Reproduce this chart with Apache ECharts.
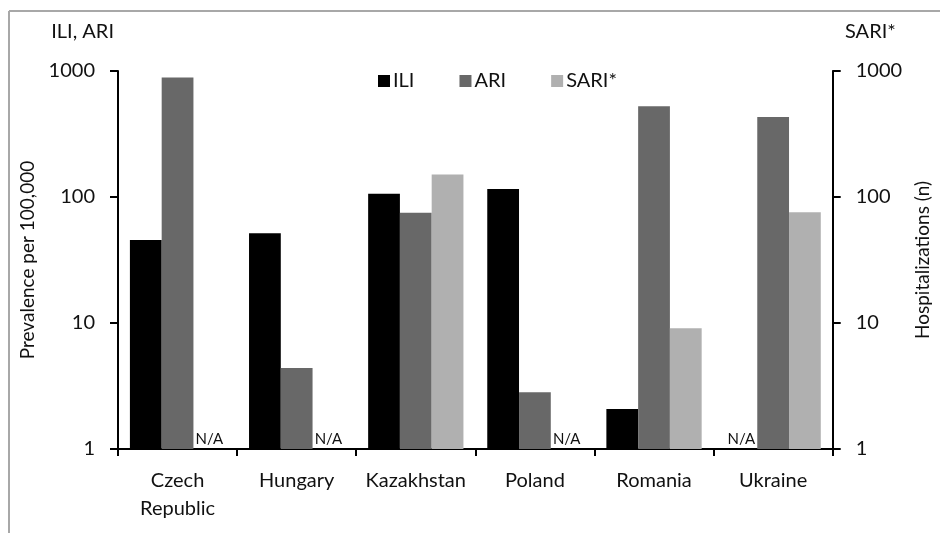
<!DOCTYPE html>
<html><head><meta charset="utf-8">
<script src="https://cdn.jsdelivr.net/npm/echarts@6/dist/echarts.min.js"></script>
<style>html,body{margin:0;padding:0;background:#fff}#c{width:940px;height:533px}</style>
</head><body><div id="c"></div>
<script>
const categories = ['Czech\nRepublic', 'Hungary', 'Kazakhstan', 'Poland', 'Romania', 'Ukraine'];
const iliValues  = [45.6, 51.5, 106, 116, 2.08, null];
const ariValues  = [890, 4.4, 75, 2.82, 525, 431];
const sariValues = [null, null, 151, null, 9.1, 75.6];
const yTicks = [1, 10, 100, 1000];
const naText = 'N/A';

const FONT = 'Lato';
function toData(arr) {
  return arr.map(v => v === null
    ? { value: 1, label: { show: true, formatter: naText } }
    : v);
}
const chart = echarts.init(document.getElementById('c'));
const yBase = {
  type: 'log', logBase: 10, min: yTicks[0], max: yTicks[yTicks.length - 1],
  splitLine: { show: false },
  axisLine: { show: true, lineStyle: { color: '#000', width: 2 } },
  axisTick: { show: true, length: 8, lineStyle: { color: '#000', width: 2 } },
  axisLabel: { color: '#111', fontSize: 20, fontFamily: FONT, margin: 23, formatter: v => String(Math.round(v)) },
  nameLocation: 'middle',
  nameTextStyle: { color: '#111', fontSize: 19, fontFamily: FONT }
};
const labelCfg = { show: false, position: 'top', distance: 2, color: '#111', fontSize: 15, fontFamily: FONT };
chart.setOption({
  animation: false,
  textStyle: { fontFamily: FONT },
  grid: { left: 118, right: 97, top: 71, bottom: 84 },
  legend: {
    left: 373, top: 66, itemWidth: 12, itemHeight: 12, itemGap: 45,
    icon: 'rect',
    textStyle: { color: '#111', fontSize: 20, fontFamily: FONT, padding: [0, 0, 0, -2] },
    data: ['ILI', 'ARI', 'SARI*']
  },
  xAxis: {
    type: 'category', data: categories,
    axisLine: { lineStyle: { color: '#000', width: 2 } },
    axisTick: { show: true, length: 7, lineStyle: { color: '#000', width: 2 } },
    axisLabel: { color: '#111', fontSize: 20, fontFamily: FONT, margin: 18, lineHeight: 28, interval: 0 }
  },
  yAxis: [
    Object.assign({}, yBase, { position: 'left', name: 'Prevalence per 100,000', nameGap: 66 }),
    Object.assign({}, yBase, { position: 'right', name: 'Hospitalizations (n)', nameGap: 68, nameRotate: 90 })
  ],
  series: [
    { name: 'ILI', type: 'bar', yAxisIndex: 0, data: toData(iliValues), barGap: '0%', barCategoryGap: '20%',
      itemStyle: { color: '#000000' }, label: labelCfg },
    { name: 'ARI', type: 'bar', yAxisIndex: 0, data: toData(ariValues), barGap: '0%', barCategoryGap: '20%',
      itemStyle: { color: '#686868' }, label: labelCfg },
    { name: 'SARI*', type: 'bar', yAxisIndex: 1, data: toData(sariValues), barGap: '0%', barCategoryGap: '20%',
      itemStyle: { color: '#b0b0b0' }, label: labelCfg }
  ],
  graphic: [
    { type: 'line', shape: { x1: 9, y1: 11, x2: 940, y2: 11 }, style: { stroke: '#a8a8a8', lineWidth: 2 } },
    { type: 'line', shape: { x1: 9, y1: 11, x2: 9, y2: 533 }, style: { stroke: '#a8a8a8', lineWidth: 2 } },
    { type: 'text', right: 940 - 114, top: 22, style: { text: 'ILI, ARI', fill: '#111', font: '20px ' + FONT, textAlign: 'right' } },
    { type: 'text', left: 845, top: 22, style: { text: 'SARI*', fill: '#111', font: '20px ' + FONT } }
  ]
});
</script></body></html>
